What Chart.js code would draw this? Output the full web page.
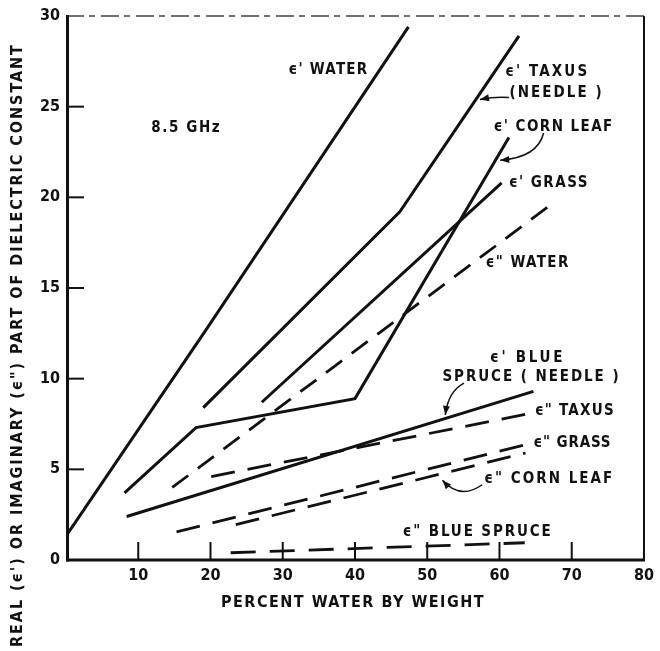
<!DOCTYPE html>
<html><head><meta charset="utf-8">
<script src="https://cdn.jsdelivr.net/npm/chart.js@4.4.1/dist/chart.umd.min.js"></script>
<style>html,body{margin:0;padding:0;background:#fff;}canvas{display:block;}</style>
</head><body>
<canvas id="c" width="660" height="651"></canvas>
<script>
// ---- tick values ----
const xTicks = [0, 10, 20, 30, 40, 50, 60, 70, 80];
const yTicks = [0, 5, 10, 15, 20, 25, 30];

// ---- series (percent water, dielectric value) ----
const waterRealX = [0.3, 19.4, 47.4];
const waterRealY = [1.5, 12.7, 29.4];
const taxusRealX = [19.0, 46.2, 62.7];
const taxusRealY = [8.4, 19.2, 28.9];
const cornRealX = [8.1, 18.0, 40.0, 61.3];
const cornRealY = [3.7, 7.3, 8.9, 23.3];
const grassRealX = [27.1, 60.3];
const grassRealY = [8.7, 20.8];
const waterImagX = [14.7, 66.8];
const waterImagY = [4.0, 19.5];
const spruceRealX = [8.4, 64.7];
const spruceRealY = [2.4, 9.3];
const taxusImagX = [20.1, 64.5];
const taxusImagY = [4.6, 8.1];
const grassImagX = [15.3, 64.0];
const grassImagY = [1.55, 6.4];
const cornImagX = [23.5, 63.6];
const cornImagY = [1.95, 5.9];
const spruceImagX = [22.8, 63.5];
const spruceImagY = [0.4, 0.95];

const INK = '#111';
const FAMILY = "'DejaVu Sans Condensed', 'DejaVu Sans', sans-serif";

const seriesTable = [
  {name: "ϵ' water", x: waterRealX, y: waterRealY, dash: []},
  {name: "ϵ' taxus", x: taxusRealX, y: taxusRealY, dash: []},
  {name: "ϵ' corn leaf", x: cornRealX, y: cornRealY, dash: []},
  {name: "ϵ' grass", x: grassRealX, y: grassRealY, dash: []},
  {name: 'ϵ" water', x: waterImagX, y: waterImagY, dash: [20, 12]},
  {name: "ϵ' blue spruce", x: spruceRealX, y: spruceRealY, dash: []},
  {name: 'ϵ" taxus', x: taxusImagX, y: taxusImagY, dash: [24, 13]},
  {name: 'ϵ" grass', x: grassImagX, y: grassImagY, dash: [24, 13]},
  {name: 'ϵ" corn leaf', x: cornImagX, y: cornImagY, dash: [24, 13]},
  {name: 'ϵ" blue spruce', x: spruceImagX, y: spruceImagY, dash: [25, 14]}
];

// text annotations: anchored in data units (left edge, vertical centre), w = target width px
const notes = [
  {t: "ϵ' WATER", x: 30.8, y: 27.0, w: 80},
  {t: "8.5 GHz", x: 11.8, y: 23.8, w: 70},
  {t: "ϵ' TAXUS", x: 60.8, y: 26.9, w: 84},
  {t: "(NEEDLE )", x: 61.4, y: 25.75, w: 94},
  {t: "ϵ' CORN LEAF", x: 59.2, y: 23.9, w: 120},
  {t: "ϵ' GRASS", x: 61.3, y: 20.8, w: 80},
  {t: 'ϵ" WATER', x: 58.1, y: 16.4, w: 84},
  {t: "ϵ' BLUE", x: 58.7, y: 11.15, w: 75},
  {t: "SPRUCE ( NEEDLE )", x: 52.1, y: 10.1, w: 178},
  {t: 'ϵ" TAXUS', x: 64.9, y: 8.2, w: 80},
  {t: 'ϵ" GRASS', x: 64.7, y: 6.45, w: 78},
  {t: 'ϵ" CORN LEAF', x: 57.9, y: 4.45, w: 130},
  {t: 'ϵ" BLUE SPRUCE', x: 46.6, y: 1.55, w: 150}
];

// pointer arrows: start, control, end (data units)
const pointers = [
  {p: [[61.3, 25.5], [59.3, 25.55], [57.3, 25.4]]},
  {p: [[66.1, 23.55], [65.3, 22.2], [60.1, 22.05]]},
  {p: [[55.1, 9.75], [52.9, 9.3], [52.5, 8.0]]},
  {p: [[57.6, 4.15], [54.6, 3.3], [52.1, 4.4]]}
];

const datasets = seriesTable.map(s => ({
  label: s.name,
  data: s.x.map((v, i) => ({x: v, y: s.y[i]})),
  showLine: true,
  borderColor: INK,
  backgroundColor: INK,
  borderWidth: s.dash.length ? 2.8 : 3,
  borderDash: s.dash,
  pointRadius: 0,
  tension: 0,
  borderCapStyle: 'butt'
}));

function spaced(ctx, text, left, cy, target) {
  ctx.letterSpacing = '0px';
  const w = ctx.measureText(text).width;
  if ('letterSpacing' in ctx && text.length > 1) {
    const ls = (target - w) / text.length;
    ctx.letterSpacing = ls.toFixed(2) + 'px';
    ctx.fillText(text, left, cy);
    ctx.letterSpacing = '0px';
  } else {
    ctx.fillText(text, left, cy);
  }
}

const overlay = {
  id: 'overlay',
  afterDatasetsDraw(chart) {
    const {ctx, chartArea: a, scales: {x, y}} = chart;
    ctx.save();
    ctx.strokeStyle = INK;
    ctx.fillStyle = INK;
    const seg = (x1, y1, x2, y2) => { ctx.beginPath(); ctx.moveTo(x1, y1); ctx.lineTo(x2, y2); ctx.stroke(); };
    // frame
    ctx.strokeStyle = '#444';
    ctx.lineWidth = 1.5;
    ctx.setLineDash([18, 5, 6, 6]);
    seg(a.left, a.top, a.right, a.top);
    ctx.setLineDash([]);
    ctx.strokeStyle = INK;
    ctx.lineWidth = 2;
    seg(a.right, a.top, a.right, a.bottom);
    ctx.lineWidth = 3;
    seg(a.left + 1.5, a.top - 1, a.left + 1.5, a.bottom + 1.5);
    seg(a.left, a.bottom, a.right + 1, a.bottom);
    // inward ticks
    ctx.lineWidth = 2;
    yTicks.forEach(v => { if (v > 0 && v < 30) { const py = y.getPixelForValue(v); seg(a.left, py, a.left + 18, py); } });
    xTicks.forEach(v => { if (v > 0 && v < 80) { const px = x.getPixelForValue(v); seg(px, a.bottom, px, a.bottom - 18); } });
    // notes
    ctx.font = 'bold 15px ' + FAMILY;
    ctx.textBaseline = 'middle';
    ctx.textAlign = 'left';
    notes.forEach(n => spaced(ctx, n.t, x.getPixelForValue(n.x), y.getPixelForValue(n.y), n.w));
    // pointers
    ctx.lineWidth = 1.5;
    pointers.forEach(pt => {
      const P = pt.p.map(q => [x.getPixelForValue(q[0]), y.getPixelForValue(q[1])]);
      ctx.beginPath();
      ctx.moveTo(P[0][0], P[0][1]);
      ctx.quadraticCurveTo(P[1][0], P[1][1], P[2][0], P[2][1]);
      ctx.stroke();
      const ang = Math.atan2(P[2][1] - P[1][1], P[2][0] - P[1][0]);
      const L = 9, W = 3.5;
      ctx.beginPath();
      ctx.moveTo(P[2][0], P[2][1]);
      ctx.lineTo(P[2][0] - L * Math.cos(ang) + W * Math.sin(ang), P[2][1] - L * Math.sin(ang) - W * Math.cos(ang));
      ctx.lineTo(P[2][0] - L * Math.cos(ang) - W * Math.sin(ang), P[2][1] - L * Math.sin(ang) + W * Math.cos(ang));
      ctx.closePath();
      ctx.fill();
    });
    // axis titles
    ctx.font = 'bold 16px ' + FAMILY;
    const xt = 'PERCENT WATER BY WEIGHT';
    spaced(ctx, xt, (a.left + a.right) / 2 - 2 - 132, 603, 264);
    ctx.save();
    ctx.translate(18, 345);
    ctx.rotate(-Math.PI / 2);
    spaced(ctx, 'REAL (ϵ\') OR IMAGINARY (ϵ") PART OF DIELECTRIC CONSTANT', -302, 0, 604);
    ctx.restore();
    ctx.restore();
  }
};

new Chart(document.getElementById('c'), {
  type: 'scatter',
  data: {datasets},
  options: {
    responsive: false,
    animation: false,
    devicePixelRatio: 1,
    layout: {padding: {left: 0, top: 16, right: 12, bottom: 0}},
    plugins: {legend: {display: false}, tooltip: {enabled: false}},
    scales: {
      x: {
        type: 'linear', min: 0, max: 80,
        afterBuildTicks: s => { s.ticks = xTicks.map(v => ({value: v})); },
        afterFit: s => { s.height = 91; },
        grid: {display: false, drawTicks: false},
        border: {display: false},
        ticks: {
          padding: 6, color: INK, maxRotation: 0, autoSkip: false,
          font: {family: FAMILY, size: 16, weight: 'bold'},
          callback: v => (v === 0 ? '' : String(v))
        }
      },
      y: {
        type: 'linear', min: 0, max: 30,
        afterBuildTicks: s => { s.ticks = yTicks.map(v => ({value: v})); },
        afterFit: s => { s.width = 66; },
        grid: {display: false, drawTicks: false},
        border: {display: false},
        ticks: {
          padding: 6, color: INK, autoSkip: false,
          font: {family: FAMILY, size: 16, weight: 'bold'},
          callback: v => String(v)
        }
      }
    }
  },
  plugins: [overlay]
});
</script>
</body></html>
